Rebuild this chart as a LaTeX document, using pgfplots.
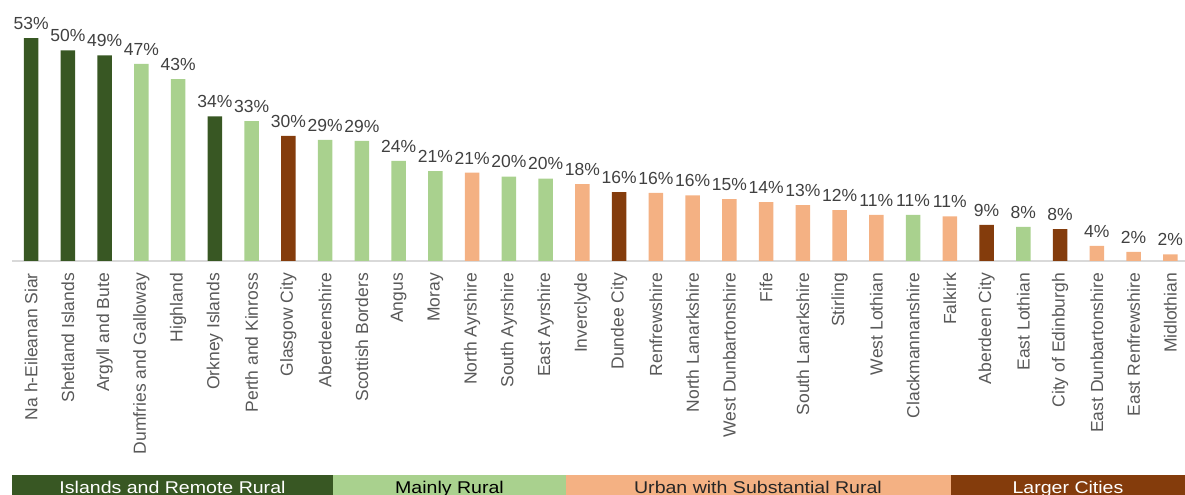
\documentclass[border=0pt]{standalone}
\usepackage{pgfplots}
\pgfplotsset{compat=1.18}
\usepackage{graphicx}
\usepackage{fontspec}
\setmainfont{Liberation Sans}

\definecolor{dgreen}{HTML}{385723}
\definecolor{lgreen}{HTML}{A9D18E}
\definecolor{peach}{HTML}{F4B183}
\definecolor{brown}{HTML}{843C0C}
\definecolor{lbl}{HTML}{404040}
\definecolor{tlbl}{HTML}{595959}

\begin{document}
\begin{tikzpicture}
\path[use as bounding box] (0,0) rectangle (1185bp,495bp);
\begin{axis}[
  at={(12bp,234bp)}, anchor=south west,
  width=1173bp, height=261bp, scale only axis,
  xmin=-0.52, xmax=31.4, ymin=0, ymax=62.1,
  clip=false,
  axis x line=bottom, axis y line=none,
  axis line style={-, draw=black!15, line width=1.5bp},
  major tick length=0pt,
  ytick=\empty,
  xtick={0,...,31},
  xticklabels={Na h-Eileanan Siar, Shetland Islands, Argyll and Bute, Dumfries and Galloway, Highland, Orkney Islands, Perth and Kinross, Glasgow City, Aberdeenshire, Scottish Borders, Angus, Moray, North Ayrshire, South Ayrshire, East Ayrshire, Inverclyde, Dundee City, Renfrewshire, North Lanarkshire, West Dunbartonshire, Fife, South Lanarkshire, Stirling, West Lothian, Clackmannanshire, Falkirk, Aberdeen City, East Lothian, City of Edinburgh, East Dunbartonshire, East Renfrewshire, Midlothian},
  xticklabel style={rotate=90, anchor=east, inner xsep=12bp, text=tlbl,
    font=\fontsize{17.5bp}{20bp}\selectfont},
  ybar, bar width=14.5bp, bar shift=0pt,
  /pgf/number format/assume math mode=true,
  nodes near coords={\pgfmathprintnumber[fixed,precision=0]{\pgfplotspointmeta}\%},
  every node near coord/.append style={text=lbl, yshift=5bp,
    font=\fontsize{17.5bp}{20bp}\selectfont},
]
% Islands and Remote Rural
\addplot[fill=dgreen, draw=none] coordinates {(0,53.0) (1,50.1) (2,48.9) (5,34.4)};
% Mainly Rural
\addplot[fill=lgreen, draw=none] coordinates {(3,46.9) (4,43.3) (6,33.3) (8,28.8) (9,28.6) (10,23.8) (11,21.4) (13,20.1) (14,19.6) (24,11.0) (27,8.1)};
% Urban with Substantial Rural
\addplot[fill=peach, draw=none] coordinates {(12,21.0) (15,18.3) (17,16.2) (18,15.6) (19,14.7) (20,14.0) (21,13.3) (22,12.1) (23,11.0) (25,10.6) (29,3.6) (30,2.2) (31,1.6)};
% Larger Cities
\addplot[fill=brown, draw=none] coordinates {(7,29.8) (16,16.4) (26,8.6) (28,7.6)};
\end{axis}
% category band
\fill[dgreen] (12bp,0) rectangle (333bp,20bp);
\fill[lgreen] (333bp,0) rectangle (566bp,20bp);
\fill[peach] (566bp,0) rectangle (951bp,20bp);
\fill[brown] (951bp,0) rectangle (1185bp,20bp);
\begin{scope}[every node/.style={anchor=base, inner sep=0pt, font=\fontsize{17bp}{20bp}\selectfont}]
\node[text=white] at (172.5bp,1.5bp) {\scalebox{1.15}[1]{Islands and Remote Rural}};
\node[text=black] at (449.5bp,1.5bp) {\scalebox{1.15}[1]{Mainly Rural}};
\node[text=black!85] at (758bp,1.5bp) {\scalebox{1.15}[1]{Urban with Substantial Rural}};
\node[text=white] at (1068bp,1.5bp) {\scalebox{1.15}[1]{Larger Cities}};
\end{scope}
\end{tikzpicture}
\end{document}
